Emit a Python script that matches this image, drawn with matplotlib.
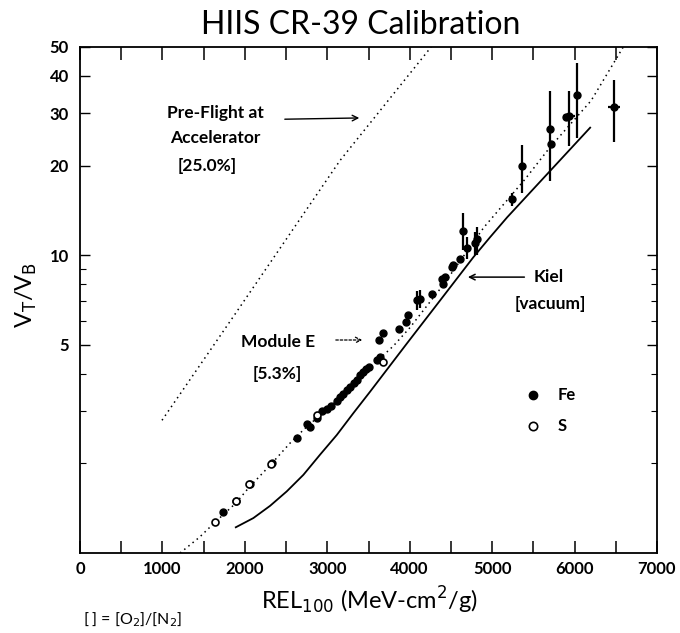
import matplotlib
matplotlib.use("Agg")
import matplotlib.pyplot as plt
from matplotlib.ticker import FixedLocator, NullFormatter, FuncFormatter

plt.rcParams["font.family"] = ["Lato", "DejaVu Sans"]

# ── Data ──────────────────────────────────────────────────────────────────────

# Fe points (small, no visible error bars)
fe_x = [1730, 1890, 2060, 2330, 2630, 2750, 2790, 2880, 2940, 3000, 3050, 3120,
        3160, 3190, 3240, 3280, 3320, 3360, 3400, 3430, 3470, 3500, 3600, 3640,
        3630, 3680, 3870, 3960, 3980, 4270, 4390, 4430, 4405, 4510, 4530, 4610,
        5720, 5890]
fe_y = [1.37, 1.50, 1.70, 2.00, 2.44, 2.72, 2.64, 2.85, 2.99, 3.05, 3.12, 3.23,
        3.33, 3.43, 3.52, 3.62, 3.72, 3.82, 3.95, 4.06, 4.15, 4.22, 4.46, 4.56,
        5.20, 5.48, 5.66, 5.97, 6.30, 7.41, 8.31, 8.44, 8.00, 9.12, 9.30, 9.70,
        23.7, 29.0]

# Fe points with error bars
feb_x    = [4090, 4130, 4650, 4700, 4790, 4820, 5240, 5360, 5700, 5930, 6030, 6480]
feb_y    = [7.07, 7.13, 12.1, 10.6, 11.0, 11.3, 15.4, 19.9, 26.6, 29.4, 34.5, 31.5]
feb_lo   = [0.5, 0.5, 1.7, 0.9, 1.0, 1.3, 0.8, 3.7, 8.8, 6.1, 9.7, 7.5]
feb_hi   = [0.5, 0.5, 1.8, 0.9, 1.0, 1.1, 0.8, 3.6, 9.0, 6.2, 9.7, 7.3]
feb_xerr = [0, 0, 0, 0, 0, 0, 0, 0, 0, 73, 0, 73]

# S points
s_x = [1640, 1890, 2050, 2320, 2870, 3680]
s_y = [1.27, 1.50, 1.70, 1.99, 2.90, 4.39]

# Module E fit (dotted)
mod_x = [1214, 1450, 1640, 1890, 2050, 2306, 2549, 2710, 3000, 3300, 3600, 3800,
         4000, 4400, 4900, 5400, 5700, 6200, 6640]
mod_y = [1.0, 1.13, 1.27, 1.47, 1.66, 1.97, 2.34, 2.59, 3.05, 3.6, 4.4, 4.95,
         5.7, 7.9, 12.4, 18.0, 23.0, 33.0, 52.7]

# Pre-flight accelerator calibration (dotted)
pre_x = [995, 1857, 3155, 4260]
pre_y = [2.79, 6.2, 20.8, 50.0]

# Kiel vacuum calibration (solid)
kiel_x = [1890, 2103, 2306, 2508, 2710, 2913, 3115, 3317, 3519, 3965, 4369,
          4773, 4976, 5182, 6189]
kiel_y = [1.22, 1.31, 1.44, 1.61, 1.83, 2.14, 2.49, 2.95, 3.48, 5.05, 7.05,
          9.85, 11.5, 13.4, 26.8]

x_labels = [0, 1000, 2000, 3000, 4000, 5000, 6000, 7000]
x_minor  = [500, 1500, 2500, 3500, 4500, 5500, 6500]
y_ticks  = [5, 10, 20, 30, 40, 50]
y_minor  = [2, 3, 4, 6, 7, 8, 9]

# ── Figure ────────────────────────────────────────────────────────────────────

fig = plt.figure(figsize=(6.8, 6.33), dpi=100)
ax = fig.add_axes([80 / 680, 1 - 553 / 633, 577 / 680, 506 / 633])

ax.set_yscale("log")
ax.set_xlim(0, 7000)
ax.set_ylim(1, 50)

ax.plot(pre_x, pre_y, linestyle=(0, (1, 2.5)), color="black", linewidth=1.1)
ax.plot(mod_x, mod_y, linestyle=(0, (1, 2.5)), color="black", linewidth=1.1)
ax.plot(kiel_x, kiel_y, color="black", linewidth=1.3)

ax.plot(fe_x, fe_y, "o", color="black", markersize=5)
ax.errorbar(feb_x, feb_y, yerr=[feb_lo, feb_hi], xerr=feb_xerr, fmt="o",
            color="black", markersize=5, elinewidth=1.6, capsize=0)
ax.plot(s_x, s_y, "o", markerfacecolor="white", markeredgecolor="black",
        markersize=5, markeredgewidth=1.2)

# Legend drawn by hand like the original
ax.plot([5500], [3.38], "o", color="black", markersize=6)
ax.plot([5500], [2.66], "o", markerfacecolor="white", markeredgecolor="black",
        markersize=6, markeredgewidth=1.2)
ax.text(5790, 3.38, "Fe", fontsize=12, fontweight="bold", va="center")
ax.text(5790, 2.66, "S", fontsize=12, fontweight="bold", va="center")

# Annotations
txt = dict(fontsize=12.5, fontweight="bold", ha="center", va="center")
ax.text(1638, 30.1, "Pre-Flight at", **txt)
ax.text(1638, 24.8, "Accelerator", **txt)
ax.text(1541, 20.0, "[25.0%]", **txt)
ax.annotate("", xy=(3422, 28.9), xytext=(2451, 28.6),
            arrowprops=dict(arrowstyle="->", color="black", lw=1.0))

ax.text(2403, 5.12, "Module E", **txt)
ax.text(2391, 4.0, "[5.3%]", **txt)
ax.annotate("", xy=(3459, 5.19), xytext=(3070, 5.19),
            arrowprops=dict(arrowstyle="->", color="black", lw=0.9,
                            linestyle=(0, (2, 1.5))))

ax.text(5680, 8.44, "Kiel", **txt)
ax.text(5704, 6.86, "[vacuum]", **txt)
ax.annotate("", xy=(4672, 8.44), xytext=(5425, 8.44),
            arrowprops=dict(arrowstyle="->", color="black", lw=1.1))

# Ticks
ax.xaxis.set_major_locator(FixedLocator(x_labels))
ax.xaxis.set_major_formatter(FuncFormatter(lambda v, p: f"{int(v)}"))
ax.xaxis.set_minor_locator(FixedLocator(x_minor))
ax.tick_params(axis="x", which="both", direction="in", length=9, width=1.1,
               top=True, bottom=True, labelsize=12, pad=6)

ax.yaxis.set_major_locator(FixedLocator(y_ticks))
ax.yaxis.set_major_formatter(FuncFormatter(lambda v, p: f"{int(v)}"))
ax.yaxis.set_minor_locator(FixedLocator(y_minor))
ax.yaxis.set_minor_formatter(NullFormatter())
ax.tick_params(axis="y", which="major", direction="in", length=7, width=1.0,
               left=True, right=True, labelsize=12, pad=8)
ax.tick_params(axis="y", which="minor", direction="in", length=4, width=0.8,
               left=True, right=True)

for lbl in ax.get_xticklabels() + ax.get_yticklabels():
    lbl.set_fontweight("bold")

for sp in ax.spines.values():
    sp.set_linewidth(1.3)

# Titles and labels
fig.text(361 / 680, 1 - 25 / 633, "HIIS CR-39 Calibration", fontsize=23,
         ha="center", va="center")
fig.text(370 / 680, 1 - 600 / 633, r"REL$_{100}$ (MeV-cm$^2$/g)", fontsize=17,
         ha="center", va="center")
fig.text(26 / 680, 1 - 295 / 633, r"V$_\mathrm{T}$/V$_\mathrm{B}$", fontsize=17,
         rotation=90, ha="center", va="center")
fig.text(83 / 680, 1 - 620 / 633, r"[ ] = [O$_2$]/[N$_2$]", fontsize=11.5,
         ha="left", va="center")

plt.savefig("out.png", dpi=100)
plt.close()
